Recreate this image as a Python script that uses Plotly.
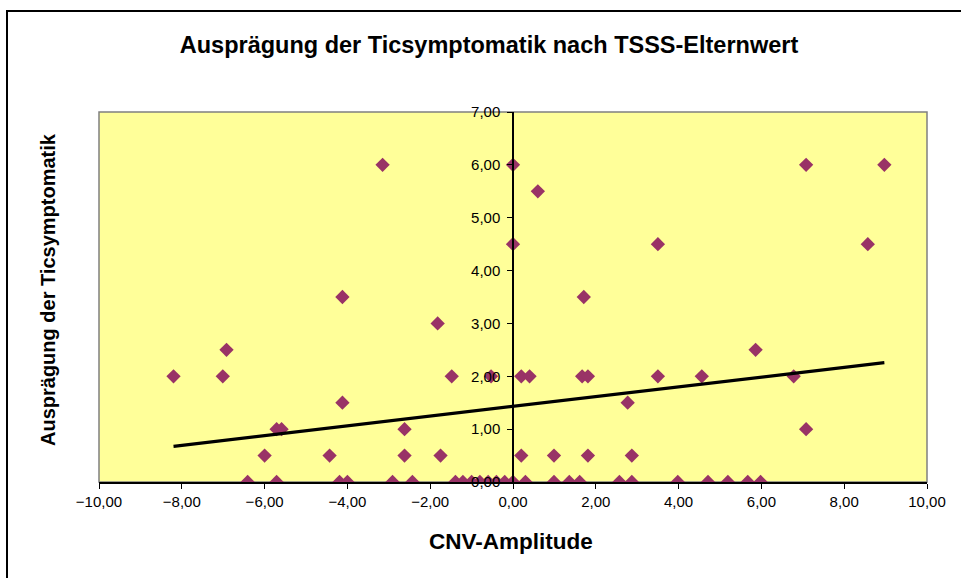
import numpy as np
import plotly.graph_objects as go

# Data (CNV-Amplitude vs. Ausprägung der Ticsymptomatik)
cnv_amplitude = [
    -3.15, 0.00, 7.08, 8.97,
    0.60,
    0.00, 3.50, 8.57,
    -4.12, 1.71,
    -1.82,
    -6.92, 5.86,
    -8.20, -7.01, -1.48, -0.53, 0.20, 0.40, 1.67, 1.81, 3.50, 4.56, 6.78,
    -4.12, 2.77,
    -5.71, -5.59, -2.62, 7.08,
    -6.00, -4.43, -2.62, -1.75, 0.20, 0.99, 1.81, 2.87,
    -6.41, -5.71, -4.19, -4.00, -2.91, -2.43, -1.39, -1.21, -1.00, -0.80, -0.60,
    -0.40, -0.20,
    0.00, 0.30, 0.99, 1.36, 1.61, 2.57, 2.87, 3.98, 4.71, 5.19, 5.67, 5.98,
]
tic_score = [
    6, 6, 6, 6,
    5.5,
    4.5, 4.5, 4.5,
    3.5, 3.5,
    3,
    2.5, 2.5,
    2, 2, 2, 2, 2, 2, 2, 2, 2, 2, 2,
    1.5, 1.5,
    1, 1, 1, 1,
    0.5, 0.5, 0.5, 0.5, 0.5, 0.5, 0.5, 0.5,
    0, 0, 0, 0, 0, 0, 0, 0, 0, 0, 0,
    0, 0,
    0, 0, 0, 0, 0, 0, 0, 0, 0, 0, 0, 0,
]

title_text = "Ausprägung der Ticsymptomatik nach TSSS-Elternwert"
x_title = "CNV-Amplitude"
y_title = "Ausprägung der Ticsymptomatik"
x_ticks = list(range(-10, 11, 2))
y_ticks = list(range(0, 8, 1))

# Linear trend line
xs = np.array(cnv_amplitude)
ys = np.array(tic_score)
slope, intercept = np.polyfit(xs, ys, 1)
trend_x = [xs.min(), xs.max()]
trend_y = [slope * v + intercept for v in trend_x]

FONT = "Liberation Sans, Arial, sans-serif"

fig = go.Figure()
fig.add_trace(go.Scatter(
    x=cnv_amplitude, y=tic_score, mode="markers",
    marker=dict(symbol="diamond", size=11, color="#993366", line=dict(width=0)),
    showlegend=False, hoverinfo="x+y",
))
fig.add_trace(go.Scatter(
    x=trend_x, y=trend_y, mode="lines",
    line=dict(color="black", width=3.2), showlegend=False, hoverinfo="skip",
))

fig.update_layout(
    width=961, height=578,
    margin=dict(l=99, r=34, t=112, b=96),
    paper_bgcolor="white", plot_bgcolor="#FFFF99",
    separators=",.",
    font=dict(family=FONT, color="black"),
    title=dict(text="<b>%s</b>" % title_text, xref="container", yref="container",
               x=489 / 961, y=1 - 45 / 578, xanchor="center", yanchor="middle",
               font=dict(size=23.5, family=FONT, color="black")),
    xaxis=dict(range=[-10, 10], tickvals=x_ticks, tickformat=".2f",
               showgrid=False, zeroline=False, showline=True, linecolor="black",
               linewidth=1.5, ticks="outside", ticklen=5, tickcolor="black",
               tickfont=dict(size=15, family=FONT), domain=[0, 1]),
    yaxis=dict(range=[0, 7], tickvals=y_ticks, tickformat=".2f",
               showgrid=False, zeroline=False, showline=True, linecolor="black",
               linewidth=1.5, ticks="outside", ticklen=5, tickcolor="black",
               ticklabelstandoff=4,
               tickfont=dict(size=15, family=FONT), anchor="free", position=0.5),
    annotations=[
        dict(text="<b>%s</b>" % x_title, xref="paper", yref="paper",
             x=(511 - 99) / 828, y=(482 - 541) / 370, xanchor="center", yanchor="middle",
             showarrow=False, font=dict(size=22.5, family=FONT)),
        dict(text="<b>%s</b>" % y_title, xref="paper", yref="paper",
             x=(48 - 99) / 828, y=(482 - 290) / 370, xanchor="center", yanchor="middle",
             textangle=-90, showarrow=False, font=dict(size=20, family=FONT)),
    ],
    shapes=[
        dict(type="rect", xref="paper", yref="paper", x0=0, x1=1, y0=0, y1=1,
             line=dict(color="#808080", width=1.5), layer="below"),
        dict(type="rect", xref="paper", yref="paper",
             x0=(7 - 99) / 828, x1=1.2, y0=-0.4, y1=(482 - 11) / 370,
             line=dict(color="black", width=2), layer="below"),
    ],
)

fig.write_html("out.html", config={"displayModeBar": False},
               post_script="document.body.style.margin='0';")
